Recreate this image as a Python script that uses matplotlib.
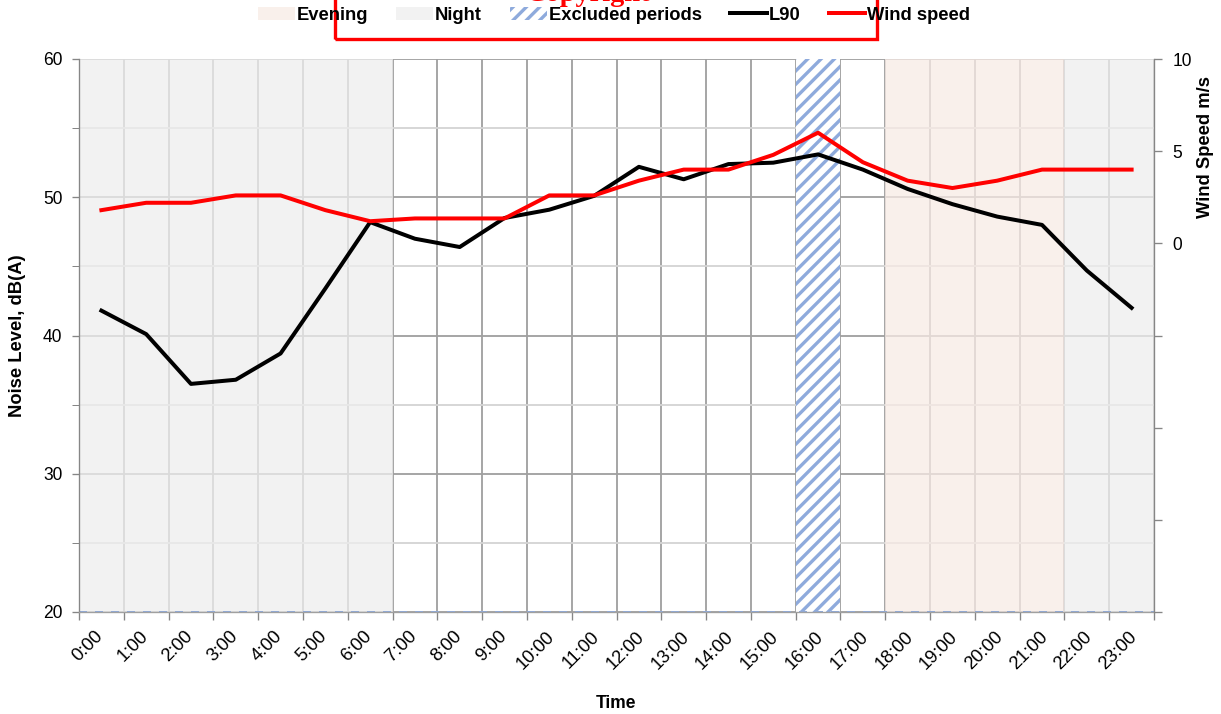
import matplotlib
matplotlib.use("Agg")
import matplotlib.pyplot as plt
import matplotlib.transforms as mtransforms
from matplotlib.patches import Patch, Rectangle
from matplotlib.lines import Line2D

# hourly values, plotted at the middle of each hour
hours = list(range(24))
hour_labels = ["%d:00" % h for h in hours]
l90 = [41.8, 40.1, 36.5, 36.8, 38.7, 43.4, 48.2, 47.0, 46.4, 48.5, 49.1, 50.1,
       52.2, 51.3, 52.4, 52.5, 53.1, 52.0, 50.6, 49.5, 48.6, 48.0, 44.7, 42.0]
wind = [1.8, 2.2, 2.2, 2.6, 2.6, 1.8, 1.2, 1.35, 1.35, 1.35, 2.6, 2.6,
        3.4, 4.0, 4.0, 4.8, 6.0, 4.4, 3.4, 3.0, 3.4, 4.0, 4.0, 4.0]

night_periods = [(0, 7), (22, 24)]
evening_periods = [(18, 22)]
excluded_periods = [(16, 17)]

right_ticks = [-20, -15, -10, -5, 0, 5, 10]
right_labels = ["", "", "", "", "0", "5", "10"]

plt.rcParams['font.family'] = ['Liberation Sans', 'DejaVu Sans']
plt.rcParams['hatch.linewidth'] = 2.0

fig = plt.figure(figsize=(1221 / 120, 714 / 120), dpi=120)
ax = fig.add_axes([79 / 1221, 1 - 612 / 714, (1154 - 79) / 1221, (612 - 59) / 714])

grid_dark = '#a0a0a0'
grid_light = '#d4d4d4'

ax.set_xlim(0, 24)
ax.set_ylim(20, 60)
ax.set_xticks(range(25))
ax.set_xticklabels([])
ax.set_yticks(range(20, 61, 10))
ax.set_yticks(range(25, 60, 10), minor=True)
ax.set_axisbelow(True)
ax.grid(True, which='major', axis='both', color=grid_dark, lw=1.1)
ax.grid(True, which='minor', axis='y', color=grid_light, lw=1.1)

for a, b in night_periods:
    ax.axvspan(a, b, color='#eeeeee', alpha=0.75, lw=0, zorder=1)
for a, b in evening_periods:
    ax.axvspan(a, b, color='#f8ebe5', alpha=0.75, lw=0, zorder=1)
for a, b in excluded_periods:
    ax.axvspan(a, b, facecolor='white', edgecolor='#8eaadc', hatch='///', lw=0, zorder=1.5)

ax.axhline(20, color='#8eaadc', ls=(0, (4, 4)), lw=1.2, zorder=2)

x_mid = [h + 0.5 for h in hours]
ax.plot(x_mid, l90, color='black', lw=2.4, zorder=3, solid_joinstyle='round')

ax2 = ax.twinx()
ax2.set_ylim(-20, 10)
ax2.set_yticks(right_ticks)
ax2.set_yticklabels(right_labels)
ax2.plot(x_mid, wind, color='#ff0000', lw=2.4, zorder=3, solid_joinstyle='round')

# rotated hour labels, centred a little to the right of each tick
label_trans = ax.get_xaxis_transform() + mtransforms.ScaledTranslation(9 / 120, -16 / 120, fig.dpi_scale_trans)
for h, txt in zip(hours, hour_labels):
    ax.text(h, 0, txt, transform=label_trans, rotation=45, ha='center', va='top', fontsize=11)

ax.tick_params(axis='y', which='both', direction='out', length=4, color='#868686',
               labelsize=10.5, pad=6)
ax.tick_params(axis='x', direction='out', length=5, color='#868686')
ax2.tick_params(axis='y', direction='out', length=5, color='#868686', labelsize=10.5, pad=6)

for a in (ax, ax2):
    for s in a.spines.values():
        s.set_visible(False)
ax.spines['left'].set_visible(True)
ax.spines['left'].set_color('#868686')
ax.spines['bottom'].set_visible(True)
ax.spines['bottom'].set_color('#a0a0a0')
ax2.spines['right'].set_visible(True)
ax2.spines['right'].set_color('#868686')

ax.set_ylabel("Noise Level, dB(A)", fontsize=11, fontweight='bold', labelpad=10)
ax.set_xlabel("Time", fontsize=10.5, fontweight='bold')
ax.xaxis.set_label_coords(0.5, -(704 - 612) / 553)
ax.xaxis.label.set_va('center')
ax2.set_ylabel("Wind Speed m/s", fontsize=11, fontweight='bold')
ax2.yaxis.set_label_coords((1197 - 79) / 1075, 0.84)

handles = [
    Patch(facecolor='#f9f0eb', edgecolor='none', label='Evening'),
    Patch(facecolor='#f2f2f2', edgecolor='none', label='Night'),
    Patch(facecolor='white', edgecolor='#8eaadc', hatch='///', lw=0, label='Excluded periods'),
    Line2D([], [], color='black', lw=2.4, label='L90'),
    Line2D([], [], color='#ff0000', lw=2.4, label='Wind speed'),
]
fig.legend(handles=handles, loc='center', bbox_to_anchor=(0.503, 1 - 15 / 714), ncol=5,
           frameon=False, handlelength=2.0, handletextpad=0.1, columnspacing=1.55,
           prop={'weight': 'bold', 'size': 11})

# copyright banner, mostly cut off at the top edge
fig.patches.append(Rectangle((335 / 1221, 1 - 39 / 714), (877 - 335) / 1221, 0.1,
                             transform=fig.transFigure, fill=False, edgecolor='#ff0000',
                             lw=2.0, clip_on=False))
fig.text(588 / 1221, 1 - 1 / 714, "Copyright", color='#ff0000', ha='center', va='baseline',
         fontsize=17, fontweight='bold', family=['Liberation Serif', 'DejaVu Serif'])

fig.savefig("out.png", dpi=120)
